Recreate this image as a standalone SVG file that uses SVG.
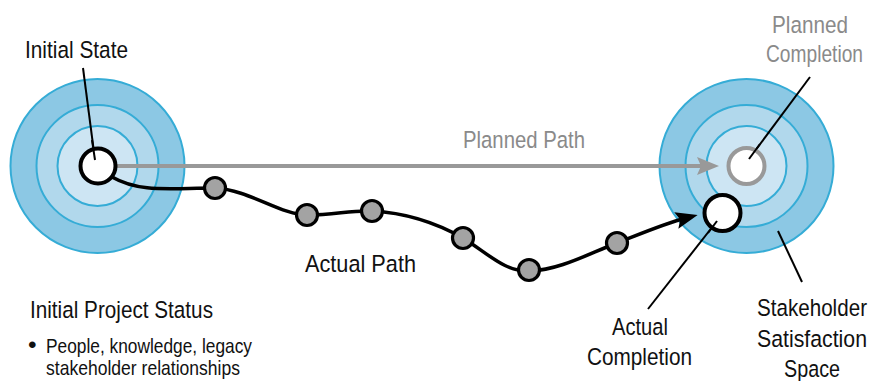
<svg xmlns="http://www.w3.org/2000/svg" width="890" height="381" viewBox="0 0 890 381">
<style>
.ring1{fill:#8cc8e4;stroke:#35acd6;stroke-width:2}
.ring2{fill:#b1d8ec;stroke:#35acd6;stroke-width:2}
.ring3{fill:#cde5f3;stroke:#35acd6;stroke-width:2}
.lbl{font-family:"Liberation Sans",Arial,sans-serif;font-size:24.5px;fill:#111}
.gl{fill:#8a8a8a}
.sm{font-size:21px}
.leader{stroke:#000;stroke-width:2;fill:none}
.dot{fill:#a3a3a3;stroke:#000;stroke-width:3.2}
</style>
<defs>
<marker id="ag" markerUnits="userSpaceOnUse" markerWidth="24" markerHeight="20" refX="10" refY="9" orient="auto" viewBox="0 0 24 20">
<path d="M0,0 L22,9 L0,18 L4,9 z" fill="#999"/>
</marker>
<marker id="ab" markerUnits="userSpaceOnUse" markerWidth="24" markerHeight="20" refX="10" refY="8.5" orient="auto" viewBox="0 0 24 20">
<path d="M0,0 L22,8.5 L0,17 L4,8.5 z" fill="#000"/>
</marker>
</defs>

<g id="initial-space">
<circle class="ring1" cx="97.5" cy="166" r="87"/>
<circle class="ring2" cx="97.5" cy="166" r="61"/>
<circle class="ring3" cx="97.5" cy="166" r="40"/>
</g>
<g id="target-space">
<circle class="ring1" cx="746.5" cy="166" r="87"/>
<circle class="ring2" cx="746.5" cy="166" r="61"/>
<circle class="ring3" cx="746.5" cy="166" r="40"/>
</g>

<g id="connectors">
<line x1="117" y1="166" x2="707" y2="166" stroke="#999" stroke-width="4" marker-end="url(#ag)"/>
<path d="M112,177 C140,193 170,188 215,188 C250,190 280,215 308,215 C335,215 350,210 372,211 C410,213 440,225 463,238 C490,255 505,272 530,271 C560,270 590,253 617,243 C640,234 666,223 686,218" fill="none" stroke="#000" stroke-width="3.5" marker-end="url(#ab)"/>
<line class="leader" x1="83" y1="68" x2="95" y2="160"/>
<line class="leader" x1="810" y1="77" x2="749" y2="159"/>
<line class="leader" x1="717" y1="221" x2="648" y2="309"/>
<line class="leader" x1="778" y1="231" x2="802" y2="282"/>
</g>

<g id="initial-state">
<circle cx="98" cy="166" r="17.5" fill="#fff" stroke="#000" stroke-width="4"/>
<line class="leader" x1="92" y1="140" x2="95" y2="160"/>
</g>
<g id="planned-completion">
<circle cx="746.5" cy="166" r="18" fill="#fff" stroke="#999" stroke-width="4"/>
<line class="leader" x1="760" y1="144" x2="749" y2="159"/>
</g>
<g id="actual-completion">
<circle cx="722.5" cy="213" r="18" fill="#fff" stroke="#000" stroke-width="4"/>
<line class="leader" x1="717" y1="221" x2="708" y2="233"/>
</g>

<g id="milestones">
<circle class="dot" cx="215" cy="188" r="10.5"/>
<circle class="dot" cx="307" cy="215" r="10.5"/>
<circle class="dot" cx="372" cy="211" r="10.5"/>
<circle class="dot" cx="463" cy="238" r="10.5"/>
<circle class="dot" cx="529" cy="270" r="10.5"/>
<circle class="dot" cx="617" cy="243" r="10.5"/>
</g>

<g id="labels">
<text class="lbl" x="25" y="58" textLength="103" lengthAdjust="spacingAndGlyphs">Initial State</text>
<text class="lbl gl" x="772" y="33" textLength="76" lengthAdjust="spacingAndGlyphs">Planned</text>
<text class="lbl gl" x="766" y="62" textLength="97" lengthAdjust="spacingAndGlyphs">Completion</text>
<text class="lbl gl" x="463" y="148" textLength="122" lengthAdjust="spacingAndGlyphs">Planned Path</text>
<text class="lbl" x="305" y="272" textLength="111" lengthAdjust="spacingAndGlyphs">Actual Path</text>
<text class="lbl" x="30" y="318" textLength="183" lengthAdjust="spacingAndGlyphs">Initial Project Status</text>
<text class="lbl" x="28" y="353" font-size="26">•</text>
<text class="lbl sm" x="46" y="353" textLength="206" lengthAdjust="spacingAndGlyphs">People, knowledge, legacy</text>
<text class="lbl sm" x="46" y="375" textLength="194" lengthAdjust="spacingAndGlyphs">stakeholder relationships</text>
<text class="lbl" x="612" y="335" textLength="56" lengthAdjust="spacingAndGlyphs">Actual</text>
<text class="lbl" x="587" y="365" textLength="105" lengthAdjust="spacingAndGlyphs">Completion</text>
<text class="lbl" x="757" y="316" textLength="110" lengthAdjust="spacingAndGlyphs">Stakeholder</text>
<text class="lbl" x="757" y="347" textLength="110" lengthAdjust="spacingAndGlyphs">Satisfaction</text>
<text class="lbl" x="784" y="377" textLength="56" lengthAdjust="spacingAndGlyphs">Space</text>
</g>
</svg>
